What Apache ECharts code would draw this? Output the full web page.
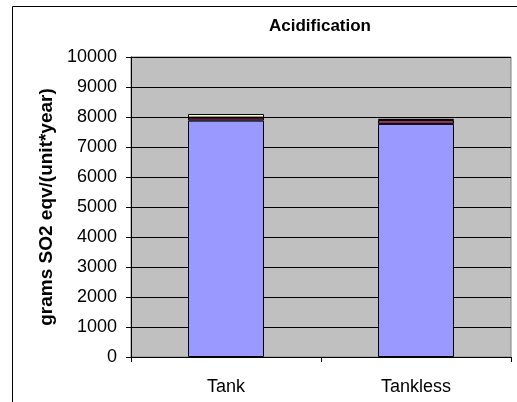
<!DOCTYPE html>
<html><head><meta charset="utf-8">
<script src="https://cdn.jsdelivr.net/npm/echarts@6/dist/echarts.min.js"></script>
<style>html,body{margin:0;padding:0;background:#fff}#c{width:517px;height:402px}</style>
</head><body><div id="c"></div>
<script>
const categories = ['Tank', 'Tankless'];
const seriesA = [7880, 7770];
const seriesB = [100, 130];
const seriesC = [120, 40];
const yTicks = [0, 1000, 2000, 3000, 4000, 5000, 6000, 7000, 8000, 9000, 10000];

const chart = echarts.init(document.getElementById('c'));
const font = '"Liberation Sans", Arial, sans-serif';
function bar(name, data, color) {
  return { name, type: 'bar', stack: 's', data, barWidth: '40%',
    itemStyle: { color, borderColor: '#000', borderWidth: 1 } };
}
chart.setOption({
  animation: false,
  title: { text: 'Acidification', left: 315, top: 13, textAlign: 'center',
    textStyle: { fontFamily: font, fontSize: 17, fontWeight: 'bold', color: '#000' } },
  graphic: [{ type: 'rect', shape: { x: 12.5, y: 6.5, width: 520, height: 410 },
    style: { fill: 'none', stroke: '#000', lineWidth: 1 }, z: -10 }],
  grid: { left: 131, right: 6, top: 57, bottom: 45, show: true,
    backgroundColor: '#C0C0C0', borderColor: '#808080', borderWidth: 1 },
  xAxis: { type: 'category', data: categories,
    axisLine: { lineStyle: { color: '#000' } },
    axisTick: { show: true, length: 5, lineStyle: { color: '#000' } },
    axisLabel: { fontFamily: font, fontSize: 18, color: '#000', margin: 21 } },
  yAxis: { type: 'value', min: yTicks[0], max: yTicks[yTicks.length - 1], interval: 1000,
    name: 'grams SO2 eqv/(unit*year)', nameLocation: 'middle', nameGap: 74,
    nameTextStyle: { fontFamily: font, fontSize: 19, fontWeight: 'bold', color: '#000' },
    axisLine: { show: true, lineStyle: { color: '#000' } },
    axisTick: { show: true, length: 5, lineStyle: { color: '#000' } },
    axisLabel: { fontFamily: font, fontSize: 18, color: '#000', margin: 14,
      formatter: v => String(v) },
    splitLine: { show: true, lineStyle: { color: '#000', width: 1 } } },
  series: [bar('A', seriesA, '#9999FF'), bar('B', seriesB, '#993366'), bar('C', seriesC, '#FFFFCC')]
});
</script></body></html>
